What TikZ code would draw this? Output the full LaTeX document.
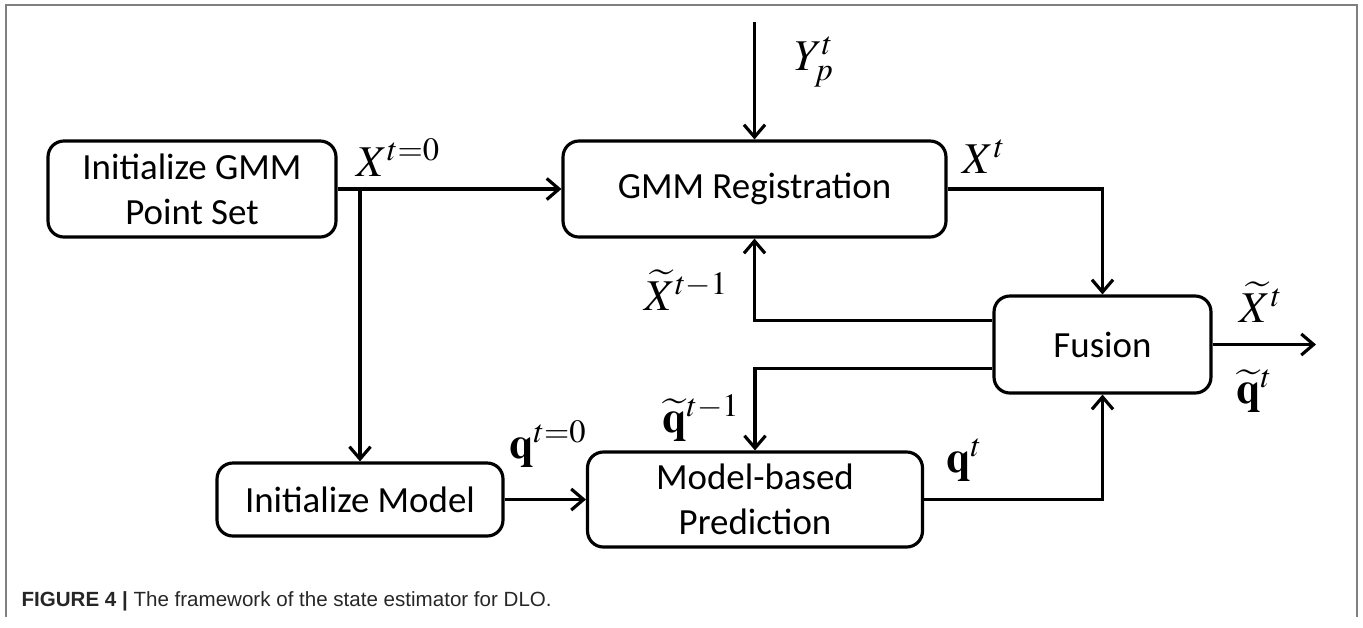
\documentclass[tikz,border=0pt]{standalone}
\usepackage{mathptmx}
\usepackage[no-math]{fontspec}
\newfontfamily\boxfont{Carlito}
\newfontfamily\capfont{Liberation Sans}
\usetikzlibrary{arrows.meta}

\begin{document}
\begin{tikzpicture}[x=0.02cm,y=-0.02cm,>={Straight Barb[length=7pt,width=12pt]},line width=1.8pt,
  main node/.style={draw,rounded corners=9pt,align=center,inner sep=0pt,font=\boxfont\fontsize{21}{25.5}\selectfont},
  sym node/.style={inner sep=0pt,font=\fontsize{25}{30}\selectfont}]

  \useasboundingbox (0,0) rectangle (1363,627);
  \draw[black!50,line width=0.8pt] (6,617) -- (6,5) -- (1357,5) -- (1357,617);

  \node[main node,minimum width=5.76cm,minimum height=1.92cm] (1) at (192,189) {Initialize GMM\\Point Set};
  \node[main node,minimum width=7.66cm,minimum height=1.92cm] (2) at (754.5,189) {GMM Registration};
  \node[main node,minimum width=4.34cm,minimum height=1.94cm] (3) at (1102.5,344.5) {Fusion};
  \node[main node,minimum width=5.72cm,minimum height=1.46cm] (4) at (360,499.5) {Initialize Model};
  \node[main node,minimum width=6.70cm,minimum height=1.90cm] (5) at (755,499.5) {Model-based\\Prediction};

  \coordinate (6) at (360,189);
  \coordinate (7) at (754.5,22);
  \coordinate (8) at (1316,344.5);

  \node[sym node] (9) at (398,158) {$X^{t=0}$};
  \node[sym node] (10) at (984,157) {$X^{t}$};
  \node[sym node] (11) at (814,62) {$Y_{p}^{t}$};
  \node[sym node] (12) at (686,290) {$\widetilde{X}^{t-1}$};
  \node[sym node] (13) at (701,418) {$\widetilde{\mathbf{q}}^{t-1}$};
  \node[sym node] (14) at (548,444) {$\mathbf{q}^{t=0}$};
  \node[sym node] (15) at (964,460) {$\mathbf{q}^{t}$};
  \node[sym node] (16) at (1261,302) {$\widetilde{X}^{t}$};
  \node[sym node] (17) at (1254,391) {$\widetilde{\mathbf{q}}^{t}$};

  \node[anchor=west,inner sep=0pt,text=black!85,font=\capfont\fontsize{11.7}{14}\selectfont] (18) at (20,601)
    {\textbf{FIGURE 4 |} The framework of the state estimator for DLO.};

  \draw[->] (1) -- (2);
  \draw[->] (6) -- (4);
  \draw[->] (7) -- (2);
  \draw[->] (2.east) -| (3.north);
  \draw[->] ([yshift=0.48cm]3.west) -| (2.south);
  \draw[->] ([yshift=-0.48cm]3.west) -| (5.north);
  \draw[->] (4) -- (5);
  \draw[->] (5.east) -| (3.south);
  \draw[->] (3) -- (8);

\end{tikzpicture}
\end{document}
